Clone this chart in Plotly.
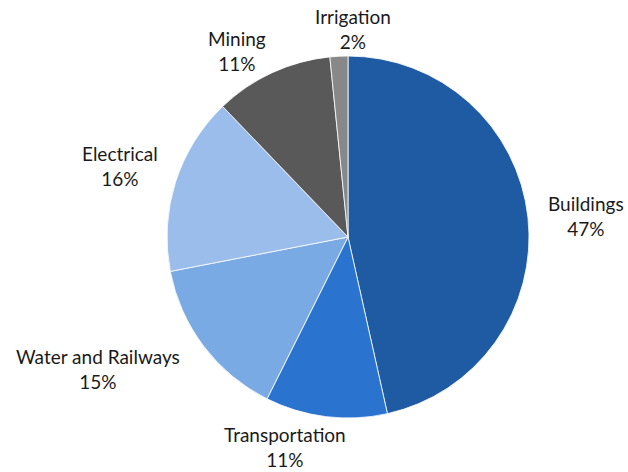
import math
import plotly.graph_objects as go

categories = ["Buildings", "Transportation", "Water and Railways", "Electrical", "Mining", "Irrigation"]
values = [46.6, 10.9, 14.6, 15.9, 10.6, 1.6]
colors = ["#1F5BA2", "#2A74D0", "#7AAAE3", "#9BBDEB", "#595959", "#888888"]

# layout / style (pixel nudges for label placement, not data)
label_nudge = [(-4, 6), (-36, -10), (-60, -12), (11, 5), (-17, 18), (16, 13)]

W, H = 628, 472
cx, cy, R = 348, 237, 181
ml, mr, mt, mb = cx - R, W - (cx + R), cy - R, H - (cy + R)
FS = 19
GAP = 16

fig = go.Figure(go.Pie(
    labels=categories, values=values, sort=False, direction="clockwise", rotation=0,
    marker=dict(colors=colors, line=dict(color="white", width=0.8)),
    textinfo="none", hoverinfo="label+percent", showlegend=False,
))

total = sum(values)
cum = 0.0
annotations = []
for (lab, v), (nx, ny) in zip(zip(categories, values), label_nudge):
    mid = (cum + v / 2) / total * 2 * math.pi
    cum += v
    dx, dy = math.sin(mid), -math.cos(mid)  # screen coords (y down)
    hw = len(lab) * FS * 0.26 + 2
    hh = FS * 1.3
    t = min(hw / max(abs(dx), 1e-6), hh / max(abs(dy), 1e-6))
    d = R + GAP + t
    px, py = cx + d * dx + nx, cy + d * dy + ny
    pct = round(v / total * 100)
    annotations.append(dict(
        x=(px - ml) / (2 * R), y=1 - (py - mt) / (2 * R), xref="paper", yref="paper",
        text=f"{lab}<br>{pct}%", showarrow=False, xanchor="center", yanchor="middle",
        font=dict(size=FS, color="#1a1a1a", family="Lato"), align="center",
    ))

fig.update_layout(
    width=W, height=H, margin=dict(l=ml, r=mr, t=mt, b=mb),
    paper_bgcolor="white", plot_bgcolor="white", annotations=annotations,
    font=dict(family="Lato"),
)
fig.write_html("out.html")
